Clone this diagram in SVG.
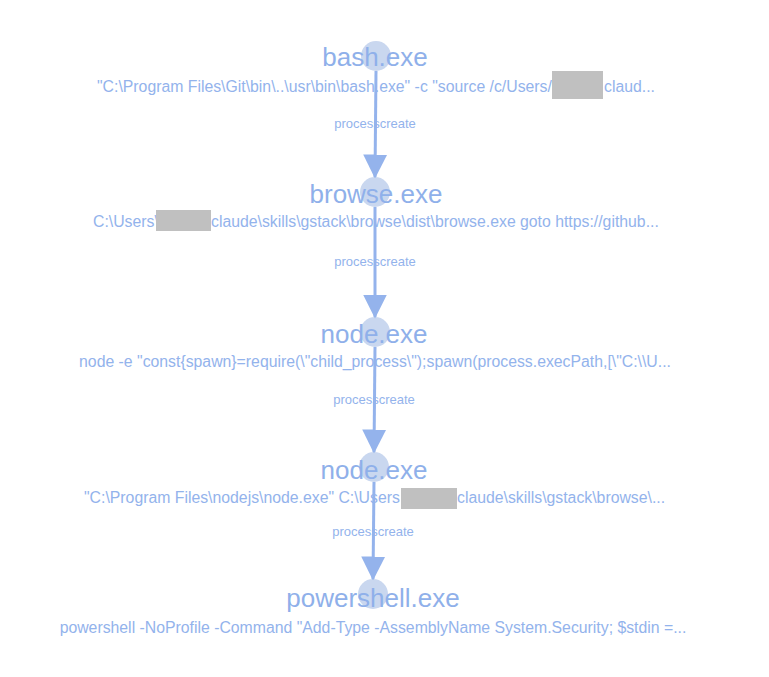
<svg xmlns="http://www.w3.org/2000/svg" width="769" height="677" viewBox="0 0 769 677">
<defs>
<style>
.bg{fill:#ffffff}
.dot{fill:#c9d7ef}
.title{font-family:"Liberation Sans",Arial,sans-serif;font-size:26px;fill:#8fb0ea;text-anchor:middle}
.sub{font-family:"Liberation Sans",Arial,sans-serif;font-size:15.8px;fill:#93b3ec}
.mid{text-anchor:middle}
.end{text-anchor:end}
.lbl{font-family:"Liberation Sans",Arial,sans-serif;font-size:13px;fill:#93b3ec;text-anchor:middle}
.mask{fill:#c0c0c0}
.edge{stroke:#94b3ec;stroke-width:3;fill:none;marker-end:url(#arr)}
</style>
<marker id="arr" markerWidth="8" markerHeight="8" refX="7.5" refY="4" orient="auto" markerUnits="strokeWidth" viewBox="0 0 8 8">
<path d="M0,0 L8,4 L0,8 Z" fill="#94b3ec"/>
</marker>
</defs>
<rect class="bg" x="0" y="0" width="769" height="677"/>
<g id="node-bash">
<circle class="dot" cx="376" cy="56" r="15"/>
<text class="title" x="375" y="66">bash.exe</text>
<text class="sub" x="97" y="92">"C:\Program Files\Git\bin\..\usr\bin\bash.exe" -c "source /c/Users/</text>
<rect class="mask" x="552" y="71" width="51" height="28"/>
<text class="sub" x="604" y="92">claud...</text>
</g>
<g id="node-browse">
<circle class="dot" cx="375" cy="192" r="15"/>
<text class="title" x="376" y="203">browse.exe</text>
<text class="sub" x="93" y="227">C:\Users\</text>
<rect class="mask" x="156" y="210" width="55" height="21"/>
<text class="sub" x="211" y="227">claude\skills\gstack\browse\dist\browse.exe goto https://github...</text>
</g>
<g id="node-node1">
<circle class="dot" cx="375" cy="332" r="15"/>
<text class="title" x="374" y="343">node.exe</text>
<text class="sub mid" x="375" y="367">node -e "const{spawn}=require(\"child_process\");spawn(process.execPath,[\"C:\\U...</text>
</g>
<g id="node-node2">
<circle class="dot" cx="374" cy="467" r="15"/>
<text class="title" x="374" y="479">node.exe</text>
<text class="sub" x="84" y="503">"C:\Program Files\nodejs\node.exe" C:\Users</text>
<rect class="mask" x="401" y="488" width="56" height="21"/>
<text class="sub" x="457" y="503">claude\skills\gstack\browse\...</text>
</g>
<g id="node-powershell">
<circle class="dot" cx="373" cy="594" r="15"/>
<text class="title" x="373" y="607">powershell.exe</text>
<text class="sub mid" x="373" y="633">powershell -NoProfile -Command "Add-Type -AssemblyName System.Security; $stdin =...</text>
</g>
<g id="connectors">
<line class="edge" x1="376" y1="71" x2="375" y2="177"/>
<line class="edge" x1="375" y1="207" x2="375" y2="317"/>
<line class="edge" x1="375" y1="347" x2="374" y2="452"/>
<line class="edge" x1="374" y1="482" x2="373" y2="579"/>
<text class="lbl" x="375" y="128">processcreate</text>
<text class="lbl" x="375" y="266">processcreate</text>
<text class="lbl" x="374" y="404">processcreate</text>
<text class="lbl" x="373" y="536">processcreate</text>
</g>
</svg>
